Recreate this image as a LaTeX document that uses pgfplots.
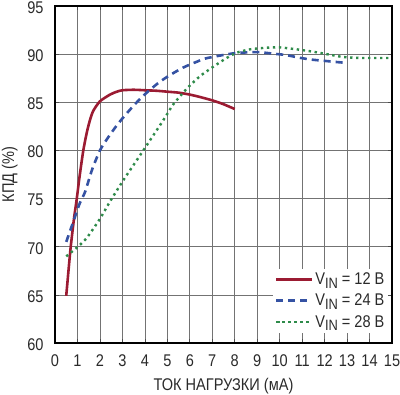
\documentclass[border=0pt]{standalone}
\usepackage{fontspec}
\setmainfont{Liberation Sans}[FakeStretch=0.86]
\usepackage{pgfplots}
\pgfplotsset{compat=1.18}
\definecolor{cred}{HTML}{9B1B32}
\definecolor{cblue}{HTML}{3552A3}
\definecolor{cgreen}{HTML}{2E8B4A}
\definecolor{txt}{HTML}{2A2A2A}
\newcommand{\vin}{V\raisebox{-0.4ex}{\fontsize{15}{15}\selectfont IN}}
\begin{document}
\begin{tikzpicture}
\begin{axis}[
  at={(0,0)}, anchor=south west,
  scale only axis, width=337bp, height=337bp,
  xmin=0, xmax=15, ymin=60, ymax=95,
  xtick={0,1,...,15}, ytick={60,65,...,95},
  grid=major,
  major grid style={black!55, line width=0.7pt},
  axis line style={black, line width=1.3pt},
  tick align=inside, major tick length=4bp,
  tick style={black!70, line width=0.7pt},
  ticklabel style={font=\fontsize{17}{17}\selectfont, text=txt},
  xticklabel style={anchor=center, yshift=-18bp},
  yticklabel style={anchor=east, xshift=-8bp, yshift=-1.5bp},
  /pgf/number format/assume math mode=true,
  xlabel={ТОК НАГРУЗКИ (мА)}, ylabel={КПД (\%)},
  label style={font=\fontsize{17}{17}\selectfont, text=txt},
  xlabel style={at={(axis description cs:0.5,-0.128)}, anchor=center},
  ylabel style={at={(axis description cs:-0.134,0.5)}, anchor=center},
  legend style={at={(0.99,0.03)}, anchor=south east, draw=none, fill=white,
    font=\fontsize{17}{17}\selectfont, text=txt, row sep=4bp, inner sep=2bp},
  legend cell align=left,
  legend image post style={xscale=2.1},
]
\addplot[cred, line width=2.6bp, smooth, tension=0.4] coordinates {
(0.5,64.9) (0.6,67.5) (0.7,70) (0.85,73) (0.97,75) (1.1,77.4) (1.26,80) (1.41,81.8) (1.55,83.1) (1.7,84.1) (2.0,85.1) (2.45,85.8) (2.75,86.1) (3.0,86.25) (3.5,86.3) (4,86.25) (4.5,86.2) (5,86.1) (5.5,86.0) (6,85.8) (6.45,85.55) (7,85.2) (7.5,84.8) (8,84.3)};
\addlegendentry{\vin{} = 12 В}
\addplot[cblue, line width=2.6bp, dash pattern=on 7bp off 5bp, smooth, tension=0.4] coordinates {
(0.5,70.5) (0.8,72.5) (1.1,74.5) (1.34,75.7) (1.65,78) (2.0,80) (2.35,81.3) (2.75,82.6) (3.1,83.6) (3.48,84.6) (3.85,85.5) (4.23,86.3) (4.65,87.1) (5.1,87.8) (5.7,88.6) (6.3,89.2) (6.7,89.55) (7.34,89.85) (8,90.1) (8.68,90.2) (9.1,90.2) (9.72,90.05) (10.3,89.9) (10.83,89.65) (11.35,89.45) (12,89.3) (12.68,89.15) (12.95,89.1)};
\addlegendentry{\vin{} = 24 В}
\addplot[cgreen, line width=2.4bp, dash pattern=on 2.4bp off 3.6bp, smooth, tension=0.4] coordinates {
(0.5,69) (0.97,69.9) (1.41,70.9) (2.0,72.9) (2.45,74.7) (3.04,76.9) (3.5,78.5) (3.93,80) (4.3,81.3) (4.67,82.6) (5.0,83.8) (5.27,84.8) (5.86,86.4) (6.45,87.7) (7.05,88.7) (7.64,89.6) (8.09,90.15) (8.68,90.5) (9.42,90.67) (10,90.7) (10.75,90.5) (11.5,90.25) (12.1,90) (12.83,89.7) (13.57,89.6) (14.2,89.6) (14.85,89.6)};
\addlegendentry{\vin{} = 28 В}
\end{axis}
\pgfresetboundingbox
\path (-55bp,-52bp) rectangle (345bp,343bp);
\end{tikzpicture}
\end{document}
